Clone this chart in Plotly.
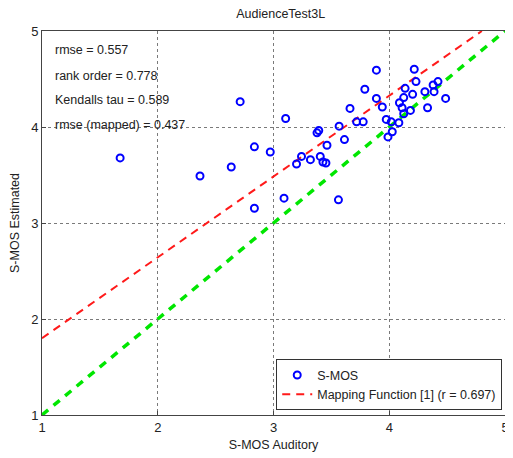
import plotly.graph_objects as go

# Scatter data (S-MOS Auditory vs S-MOS Estimated)
smos_auditory = [2.712, 1.675, 2.365, 2.635, 2.835, 2.972, 2.835,
                 3.889, 4.216, 4.421, 4.379, 4.231, 4.137, 3.789, 4.308,
                 4.387, 4.202, 4.125, 3.889, 4.487, 4.088, 4.111, 4.331,
                 3.940, 3.661, 4.183, 4.125, 3.105, 3.718, 3.775, 3.974,
                 4.017, 4.083, 3.567, 3.391, 3.376, 4.026, 3.989, 3.613,
                 3.462, 3.242, 3.319, 3.199, 3.404, 3.427, 3.453, 3.091,
                 3.561]
smos_estimated = [4.264, 3.678, 3.490, 3.583, 3.793, 3.740, 3.154,
                  4.592, 4.602, 4.473, 4.438, 4.473, 4.403, 4.393, 4.368,
                  4.368, 4.340, 4.306, 4.298, 4.298, 4.253, 4.201, 4.201,
                  4.208, 4.194, 4.173, 4.138, 4.089, 4.054, 4.054, 4.079,
                  4.054, 4.044, 4.009, 3.963, 3.939, 3.950, 3.897, 3.869,
                  3.810, 3.694, 3.660, 3.615, 3.694, 3.635, 3.625, 3.259,
                  3.241]

# Mapping function line (endpoints)
map_x = [1.0, 4.8]
map_y = [1.8, 5.0]

# Identity line
ident_x = [1, 5]
ident_y = [1, 5]

stats_text = ["rmse = 0.557", "rank order = 0.778",
              "Kendalls tau = 0.589", "rmse (mapped) = 0.437"]
stats_y = [4.80, 4.535, 4.28, 4.02]

tick_vals = [1, 2, 3, 4, 5]

FONT = "Liberation Sans, Arial, sans-serif"

fig = go.Figure()
fig.add_trace(go.Scatter(
    x=ident_x, y=ident_y, mode="lines", showlegend=False,
    line=dict(color="#00e600", width=3.5, dash="8px,7px"), hoverinfo="skip"))
fig.add_trace(go.Scatter(
    x=map_x, y=map_y, mode="lines", name="Mapping Function [1] (r = 0.697)",
    line=dict(color="#ff1a1a", width=2, dash="8px,6px")))
fig.add_trace(go.Scatter(
    x=smos_auditory, y=smos_estimated, mode="markers", name="S-MOS",
    marker=dict(symbol="circle-open", size=7, color="#0000ff",
                line=dict(width=2, color="#0000ff"))))

for txt, yy in zip(stats_text, stats_y):
    fig.add_annotation(x=1.095, y=yy, xref="x", yref="y", text=txt,
                       showarrow=False, xanchor="left", yanchor="middle",
                       font=dict(family=FONT, size=12.5, color="#222"))

axis_common = dict(
    range=[1, 5], tickvals=tick_vals, showgrid=True,
    gridcolor="#7a7a7a", griddash="dot", gridwidth=1,
    showline=True, linecolor="#444", linewidth=1, mirror=True,
    ticks="inside", ticklen=4, tickcolor="#444",
    zeroline=False, tickfont=dict(family=FONT, size=13, color="#222"),
    ticklabeloverflow="allow",
)

fig.update_xaxes(**axis_common,
                 title=dict(text="S-MOS Auditory", standoff=6,
                            font=dict(family=FONT, size=12.5, color="#222")))
fig.update_yaxes(**axis_common,
                 title=dict(text="S-MOS Estimated", standoff=8,
                            font=dict(family=FONT, size=12.5, color="#222")))

fig.update_layout(
    width=505, height=450,
    margin=dict(l=34, r=4, t=23, b=43),
    paper_bgcolor="white", plot_bgcolor="white",
    title=dict(text="AudienceTest3L", x=0.54, xanchor="center",
               y=0.988, yanchor="middle",
               font=dict(family=FONT, size=12.5, color="#222")),
    legend=dict(x=0.994, y=0.012, xanchor="right", yanchor="bottom",
                traceorder="reversed",
                bgcolor="white", bordercolor="#333", borderwidth=1,
                font=dict(family=FONT, size=12.5, color="#222"),
                tracegroupgap=0, itemwidth=30),
    showlegend=True,
)

fig.write_html("out.html")
